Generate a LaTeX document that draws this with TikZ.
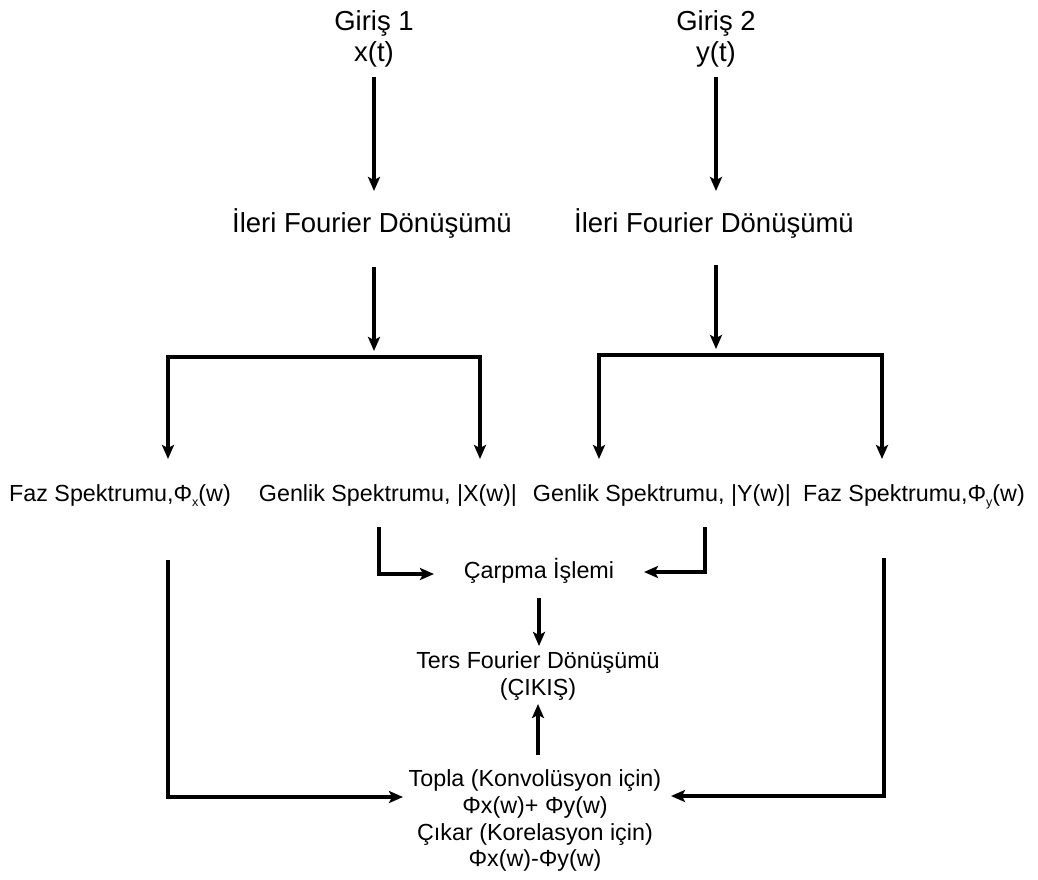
\documentclass[tikz,border=0pt]{standalone}
\usepackage{fontspec}
\setmainfont{Liberation Sans}
\usetikzlibrary{arrows.meta}
\newcommand{\phisub}[1]{Φ\raisebox{-0.45ex}{\fontsize{12.5}{12.5}\selectfont #1}}
\begin{document}
\begin{tikzpicture}[x=1pt,y=-1pt,
  big/.style={font=\fontsize{27.5}{30}\selectfont, anchor=base, inner sep=0pt},
  lbl/.style={font=\fontsize{23.3}{27}\selectfont, anchor=base, inner sep=0pt},
  conn/.style={line width=3.2pt, -{Stealth[length=14pt,width=12pt,inset=3pt]}},
  plain/.style={line width=3.2pt}]
\useasboundingbox (0,0) rectangle (1038,879);

% top inputs
\node[big] (g1) at (374,30) {Giriş 1};
\node[big] (x1) at (374,61) {x(t)};
\node[big] (g2) at (716,30) {Giriş 2};
\node[big] (y2) at (716,61) {y(t)};
\node[big] (f1) at (372,232) {İleri Fourier Dönüşümü};
\node[big] (f2) at (714,232) {İleri Fourier Dönüşümü};

% spectra
\node[lbl] (px) at (120,501) {Faz Spektrumu,\phisub{x}(w)};
\node[lbl] (ax) at (388,501) {Genlik Spektrumu, |X(w)|};
\node[lbl] (ay) at (662,501) {Genlik Spektrumu, |Y(w)|};
\node[lbl] (py) at (914,501) {Faz Spektrumu,\phisub{y}(w)};

\node[lbl] (mul) at (539,578) {Çarpma İşlemi};
\node[lbl] (inv1) at (538,668) {Ters Fourier Dönüşümü};
\node[lbl] (inv2) at (538,695) {(ÇIKIŞ)};

\node[lbl] (s1) at (535,786) {Topla (Konvolüsyon için)};
\node[lbl] (s2) at (535,813) {Φx(w)+ Φy(w)};
\node[lbl] (s3) at (535,840) {Çıkar (Korelasyon için)};
\node[lbl] (s4) at (535,866) {Φx(w)-Φy(w)};

% coordinates
\coordinate (a1s) at (374,77);  \coordinate (a1e) at (374,191);
\coordinate (a2s) at (716,77);  \coordinate (a2e) at (716,191);
\coordinate (b1s) at (374,267); \coordinate (b1e) at (374,351);
\coordinate (b2s) at (716,265); \coordinate (b2e) at (716,349);
\coordinate (l1) at (168,357); \coordinate (r1) at (480,357);
\coordinate (l1e) at (168,459); \coordinate (r1e) at (480,459);
\coordinate (l2) at (599,355); \coordinate (r2) at (882,355);
\coordinate (l2e) at (599,459); \coordinate (r2e) at (882,459);
\coordinate (ex1) at (379,527); \coordinate (ex2) at (379,574); \coordinate (ex3) at (434,574);
\coordinate (ey1) at (705,527); \coordinate (ey2) at (705,572); \coordinate (ey3) at (644,572);
\coordinate (m1) at (539,598); \coordinate (m2) at (539,646);
\coordinate (u1) at (538,755); \coordinate (u2) at (538,704);
\coordinate (pl1) at (168,560); \coordinate (pl2) at (168,797); \coordinate (pl3) at (403,797);
\coordinate (pr1) at (884,558); \coordinate (pr2) at (884,796); \coordinate (pr3) at (671,796);

% connectors
\draw[conn] (a1s) -- (a1e);
\draw[conn] (a2s) -- (a2e);
\draw[conn] (b1s) -- (b1e);
\draw[conn] (b2s) -- (b2e);
\draw[plain, line cap=rect] (l1) -- (r1);
\draw[plain, line cap=rect] (l2) -- (r2);
\draw[conn] (l1) -- (l1e);
\draw[conn] (r1) -- (r1e);
\draw[conn] (l2) -- (l2e);
\draw[conn] (r2) -- (r2e);
\draw[conn, line join=miter] (ex1) -- (ex2) -- (ex3);
\draw[conn, line join=miter] (ey1) -- (ey2) -- (ey3);
\draw[conn] (m1) -- (m2);
\draw[conn] (u1) -- (u2);
\draw[conn, line join=miter] (pl1) -- (pl2) -- (pl3);
\draw[conn, line join=miter] (pr1) -- (pr2) -- (pr3);
\end{tikzpicture}
\end{document}
